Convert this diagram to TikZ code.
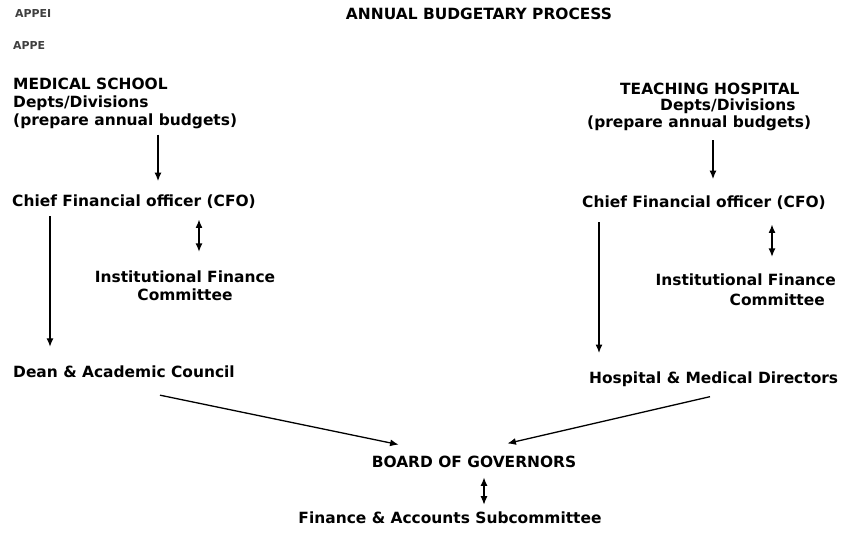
\documentclass[tikz,border=0pt]{standalone}
\usepackage{fontspec}
\setmainfont{DejaVu Sans}
\usepackage{tikz}
\usetikzlibrary{arrows.meta}
\usetikzlibrary{positioning}

\begin{document}
\begin{tikzpicture}
	[x=1bp,y=-1bp,
	lbl/.style={font=\bfseries\fontsize{15.5}{18.5}\selectfont, inner sep=0pt},
	stamp/.style={font=\bfseries\fontsize{11}{11}\selectfont, inner sep=0pt, text=black!75},
	flow/.style={draw, line width=1.3bp, -{Latex[length=8.5bp,width=7bp]}},
	twoway/.style={flow, {Latex[length=8.5bp,width=7bp]}-{Latex[length=8.5bp,width=7bp]}}]
	\fill[white] (0,0) rectangle (846,533);
	\useasboundingbox (0,0) rectangle (846,533);
	\node[lbl] (title) at (479,14) {ANNUAL BUDGETARY PROCESS};
	\node[stamp, anchor=west] (appa) at (15,14) {APPEI};
	\node[stamp, anchor=west] (appb) at (13,46) {APPE};
	\node[lbl, align=left, anchor=west] (msch) at (13,103.5) {MEDICAL SCHOOL\\Depts/Divisions\\(prepare annual budgets)};
	\node[lbl, align=left, anchor=west, font=\bfseries\fontsize{15.5}{16.5}\selectfont] (thosp) at (587,106.5) {\hspace*{33bp}TEACHING HOSPITAL\\\hspace*{73bp}Depts/Divisions\\(prepare annual budgets)};
	\node[lbl, anchor=west] (cfoms) at (12,202) {Chief Financial officer (CFO)};
	\node[lbl, anchor=west] (cfoth) at (582,203) {Chief Financial officer (CFO)};
	\node[lbl, align=center, font=\bfseries\fontsize{15.5}{18}\selectfont] (ifcms) at (185,286) {Institutional Finance\\Committee};
	\node[lbl, align=right, anchor=east, font=\bfseries\fontsize{15.5}{20}\selectfont] (ifcth) at (836,290) {Institutional Finance\\Committee\hspace*{11bp}};
	\node[lbl, anchor=west] (deanac) at (13,372) {Dean \& Academic Council};
	\node[lbl, anchor=west] (hospmd) at (589,379.5) {Hospital \& Medical Directors};
	\node[lbl] (board) at (474,462) {BOARD OF GOVERNORS};
	\node[lbl] (fin) at (450,517.7) {Finance \& Accounts Subcommittee};

	\draw[flow, shorten <=5bp, shorten >=13.8bp] ([xshift=145bp]msch.south west) -- ([xshift=145bp]msch.south west |- cfoms.north);
	\draw[flow, shorten <=9.5bp, shorten >=16.8bp] ([xshift=126bp]thosp.south west) -- ([xshift=126bp]thosp.south west |- cfoth.north);
	\draw[twoway, shorten <=10.4bp, shorten >=19bp] ([xshift=187bp]cfoms.south west) -- ([xshift=187bp]cfoms.south west |- ifcms.north);
	\draw[twoway, shorten <=14.4bp, shorten >=17bp] ([xshift=190bp]cfoth.south west) -- ([xshift=190bp]cfoth.south west |- ifcth.north);
	\draw[flow, shorten <=7.4bp, shorten >=19bp] ([xshift=38bp]cfoms.south west) -- ([xshift=38bp]cfoms.south west |- deanac.north);
	\draw[flow, shorten <=12.4bp, shorten >=18.8bp] ([xshift=17bp]cfoth.south west) -- ([xshift=17bp]cfoth.south west |- hospmd.north);
	\draw[flow] ([xshift=147bp,yshift=-17bp]deanac.south west) -- ([xshift=27bp,yshift=11.35bp]board.north west);
	\draw[flow] ([xshift=121bp,yshift=-9.5bp]hospmd.south west) -- ([xshift=-69bp,yshift=12.5bp]board.north east);
	\draw[twoway, shorten <=9.35bp, shorten >=6.8bp] ([xshift=10bp]board.south) -- ([xshift=10bp]board.south |- fin.north);
\end{tikzpicture}
\end{document}
